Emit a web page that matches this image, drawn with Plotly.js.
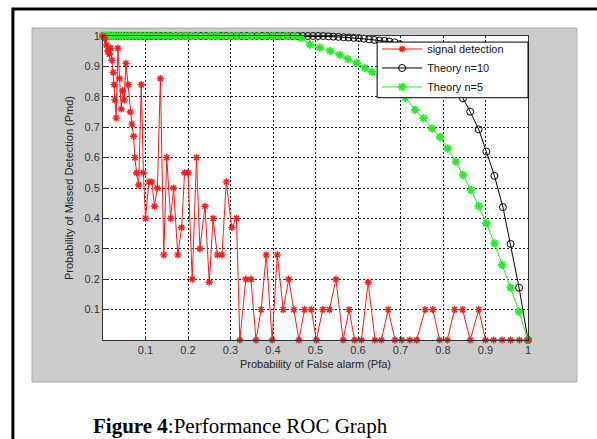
<!DOCTYPE html>
<html>
<head>
<meta charset="utf-8">
<script src="https://cdn.plot.ly/plotly-3.0.1.min.js"></script>
<style>html,body{margin:0;padding:0;background:#fff;}#chart{width:597px;height:439px;}</style>
</head>
<body>
<div id="chart"></div>
<script>
// Signal detection (measured) — Pfa vs Pmd
var sigPfa = [0, 0.004, 0.008, 0.011, 0.015, 0.018, 0.021, 0.024, 0.026, 0.028,
  0.031, 0.035, 0.039, 0.043, 0.046, 0.05, 0.054, 0.059, 0.064, 0.068,
  0.072, 0.075, 0.079, 0.084, 0.09, 0.095, 0.1, 0.108, 0.115, 0.121,
  0.128, 0.135, 0.143, 0.15, 0.159, 0.166, 0.176, 0.185, 0.192, 0.2,
  0.21, 0.22, 0.228, 0.24, 0.25, 0.259, 0.269, 0.28, 0.29, 0.303,
  0.314, 0.322, 0.336, 0.348, 0.36, 0.372, 0.384, 0.398, 0.41, 0.424,
  0.437, 0.449, 0.461, 0.474, 0.49, 0.502, 0.517, 0.533, 0.548, 0.565,
  0.579, 0.592, 0.608, 0.624, 0.64, 0.655, 0.671, 0.687, 0.703, 0.722,
  0.738, 0.758, 0.776, 0.792, 0.81, 0.827, 0.846, 0.864, 0.884, 0.9,
  0.919, 0.939, 0.959, 0.98, 1.0];
var sigPmd = [1, 0.99, 0.97, 0.95, 0.94, 0.96, 0.92, 0.88, 0.84, 0.79,
  0.73, 0.96, 0.86, 0.76, 0.82, 0.79, 0.91, 0.84, 0.75, 0.71,
  0.67, 0.6, 0.55, 0.51, 0.84, 0.55, 0.4, 0.52, 0.52, 0.44,
  0.5, 0.86, 0.28, 0.6, 0.4, 0.5, 0.28, 0.37, 0.55, 0.55,
  0.2, 0.6, 0.3, 0.44, 0.19, 0.4, 0.28, 0.28, 0.52, 0.37,
  0.4, 0, 0.2, 0.2, 0, 0.1, 0.28, 0, 0.28, 0.1,
  0.2, 0.1, 0, 0.1, 0.1, 0, 0.1, 0.1, 0.2, 0,
  0.1, 0, 0, 0.19, 0, 0, 0.1, 0, 0, 0,
  0, 0.1, 0.1, 0, 0, 0.1, 0.1, 0, 0.1, 0,
  0, 0, 0, 0, 0];

// Theory n=10
var n10Pfa = [0, 0.003, 0.006, 0.01, 0.014, 0.019, 0.024, 0.03, 0.036, 0.043,
  0.05, 0.058, 0.066, 0.075, 0.084, 0.094, 0.104, 0.114, 0.125, 0.136,
  0.147, 0.158, 0.17, 0.182, 0.194, 0.206, 0.218, 0.23, 0.242, 0.254,
  0.266, 0.278, 0.29, 0.302, 0.314, 0.326, 0.338, 0.35, 0.362, 0.374,
  0.386, 0.398, 0.41, 0.422, 0.434, 0.446, 0.458, 0.47, 0.482, 0.494,
  0.506, 0.518,
  0.53, 0.542, 0.554, 0.566, 0.578, 0.59, 0.602, 0.614, 0.626, 0.638,
  0.65, 0.662, 0.674, 0.686, 0.698, 0.712, 0.728, 0.745, 0.762, 0.78,
  0.798, 0.816, 0.83, 0.847, 0.864, 0.884, 0.902, 0.921, 0.941, 0.959,
  0.979, 1.0];
var n10Pmd = [1, 1, 1, 1, 1, 1, 1, 1, 1, 1,
  1, 1, 1, 1, 1, 1, 1, 1, 1, 1,
  1, 1, 1, 1, 1, 1, 1, 1, 1, 1,
  1, 1, 1, 1, 1, 1, 1, 1, 1, 1,
  1, 1, 1, 1, 1, 1, 1, 1, 1, 1,
  1, 1,
  0.999, 0.998, 0.997, 0.996, 0.995, 0.994, 0.993, 0.991, 0.989, 0.987,
  0.985, 0.984, 0.982, 0.979, 0.973, 0.965, 0.955, 0.943, 0.928, 0.909,
  0.886, 0.86, 0.833, 0.795, 0.751, 0.693, 0.62, 0.54, 0.437, 0.316,
  0.172, 0];

// Theory n=5
var n5Pfa = [0, 0.002, 0.004, 0.007, 0.01, 0.014, 0.018, 0.023, 0.028, 0.034,
  0.04, 0.047, 0.054, 0.062, 0.07, 0.079, 0.088, 0.098, 0.108, 0.119,
  0.13, 0.142, 0.154, 0.167, 0.18, 0.194, 0.208, 0.222, 0.237, 0.252,
  0.267, 0.283, 0.299, 0.315, 0.331, 0.348, 0.365, 0.382, 0.399, 0.416,
  0.433, 0.45, 0.467,
  0.487, 0.51, 0.534, 0.557, 0.576, 0.597, 0.616, 0.633, 0.653, 0.672,
  0.692, 0.711, 0.734, 0.754, 0.774, 0.793, 0.811, 0.83, 0.847, 0.866,
  0.884, 0.902, 0.921, 0.939, 0.959, 0.979, 1.0];
var n5Pmd = [1, 1, 1, 1, 1, 1, 1, 1, 1, 1,
  1, 1, 1, 1, 1, 1, 1, 1, 1, 1,
  1, 1, 1, 1, 1, 1, 1, 1, 1, 1,
  1, 1, 1, 1, 1, 1, 1, 1, 1, 1,
  1, 1, 0.993,
  0.972, 0.962, 0.951, 0.938, 0.924, 0.911, 0.895, 0.882, 0.863, 0.842,
  0.82, 0.797, 0.757, 0.73, 0.696, 0.667, 0.63, 0.587, 0.543, 0.493,
  0.44, 0.384, 0.318, 0.247, 0.172, 0.093, 0];

var tickVals = [0.1, 0.2, 0.3, 0.4, 0.5, 0.6, 0.7, 0.8, 0.9, 1];
var tickText = ['0.1', '0.2', '0.3', '0.4', '0.5', '0.6', '0.7', '0.8', '0.9', '1'];

var legendNames = ['signal detection', 'Theory n=10', 'Theory n=5'];

var traces = [
  {x: n10Pfa, y: n10Pmd, name: legendNames[1], type: 'scatter', mode: 'lines+markers',
   legendrank: 2, cliponaxis: false,
   line: {color: '#000000', width: 1},
   marker: {symbol: 'circle-open', size: 7, color: '#000000', line: {width: 1, color: '#000000'}}},
  {x: n5Pfa, y: n5Pmd, name: legendNames[2], type: 'scatter', mode: 'lines+markers',
   legendrank: 3, cliponaxis: false,
   line: {color: '#22ee22', width: 1},
   marker: {symbol: 'asterisk-open', size: 7, color: '#22ee22', line: {width: 1.8, color: '#22ee22'}}},
  {x: sigPfa, y: sigPmd, name: legendNames[0], type: 'scatter', mode: 'lines+markers',
   legendrank: 1, cliponaxis: false,
   line: {color: '#ff1a1a', width: 1},
   marker: {symbol: 'asterisk-open', size: 6, color: '#ff1a1a', line: {width: 1.4, color: '#ff1a1a'}}}
];

var axisCommon = {
  range: [0, 1], tickmode: 'array', tickvals: tickVals, ticktext: tickText,
  showline: true, mirror: true, linecolor: '#333', linewidth: 1,
  ticks: 'inside', ticklen: 4, tickcolor: '#333',
  showgrid: true, gridcolor: '#222', gridwidth: 1, griddash: '2px,2px',
  zeroline: false, fixedrange: true,
  tickfont: {family: 'Liberation Sans, Arial, sans-serif', size: 11, color: '#333'}
};

var layout = {
  width: 597, height: 439,
  margin: {l: 103, r: 69, t: 36, b: 99},
  paper_bgcolor: '#ffffff', plot_bgcolor: '#ffffff',
  showlegend: true,
  xaxis: Object.assign({}, axisCommon, {
    title: {text: 'Probability of False alarm (Pfa)', standoff: 5,
            font: {family: 'Liberation Sans, Arial, sans-serif', size: 11, color: '#222'}}
  }),
  yaxis: Object.assign({}, axisCommon, {
    title: {text: 'Probability of Missed Detection (Pmd)', standoff: 8,
            font: {family: 'Liberation Sans, Arial, sans-serif', size: 11, color: '#222'}}
  }),
  legend: {
    x: 0.645, y: 1.005, xanchor: 'left', yanchor: 'top',
    bgcolor: 'rgba(0,0,0,0)', borderwidth: 0,
    font: {family: 'Liberation Sans, Arial, sans-serif', size: 11, color: '#111'},
    itemwidth: 40, tracegroupgap: 0
  },
  shapes: [
    {type: 'rect', xref: 'paper', yref: 'paper', x0: -0.167, x1: 1.115, y0: -0.138, y1: 1.026,
     fillcolor: '#cccccc', line: {width: 1, color: '#aaaaaa'}, layer: 'below'},
    {type: 'rect', xref: 'paper', yref: 'paper', x0: 0, x1: 1, y0: 0, y1: 1,
     fillcolor: '#ffffff', line: {width: 0}, layer: 'below'},
    {type: 'rect', xref: 'paper', yref: 'paper', x0: -0.212, x1: 1.25, y0: -0.45, y1: 1.089,
     fillcolor: 'rgba(0,0,0,0)', line: {width: 3, color: '#000000'}, layer: 'below'},
    // legend box (opaque, like the MATLAB legend)
    {type: 'rect', xref: 'paper', yref: 'paper', x0: 0.645, x1: 1.0, y0: 0.797, y1: 0.98,
     fillcolor: '#ffffff', line: {width: 1, color: '#000000'}, layer: 'above'}
  ],
  annotations: [
    {text: '<b>Figure 4</b>:Performance ROC Graph', xref: 'paper', yref: 'paper',
     x: -0.029, y: -0.283, xanchor: 'left', yanchor: 'middle', showarrow: false,
     font: {family: 'Liberation Serif, Times New Roman, serif', size: 21, color: '#000'}}
  ]
};

Plotly.newPlot('chart', traces, layout, {displayModeBar: false, staticPlot: true});
</script>
</body>
</html>
